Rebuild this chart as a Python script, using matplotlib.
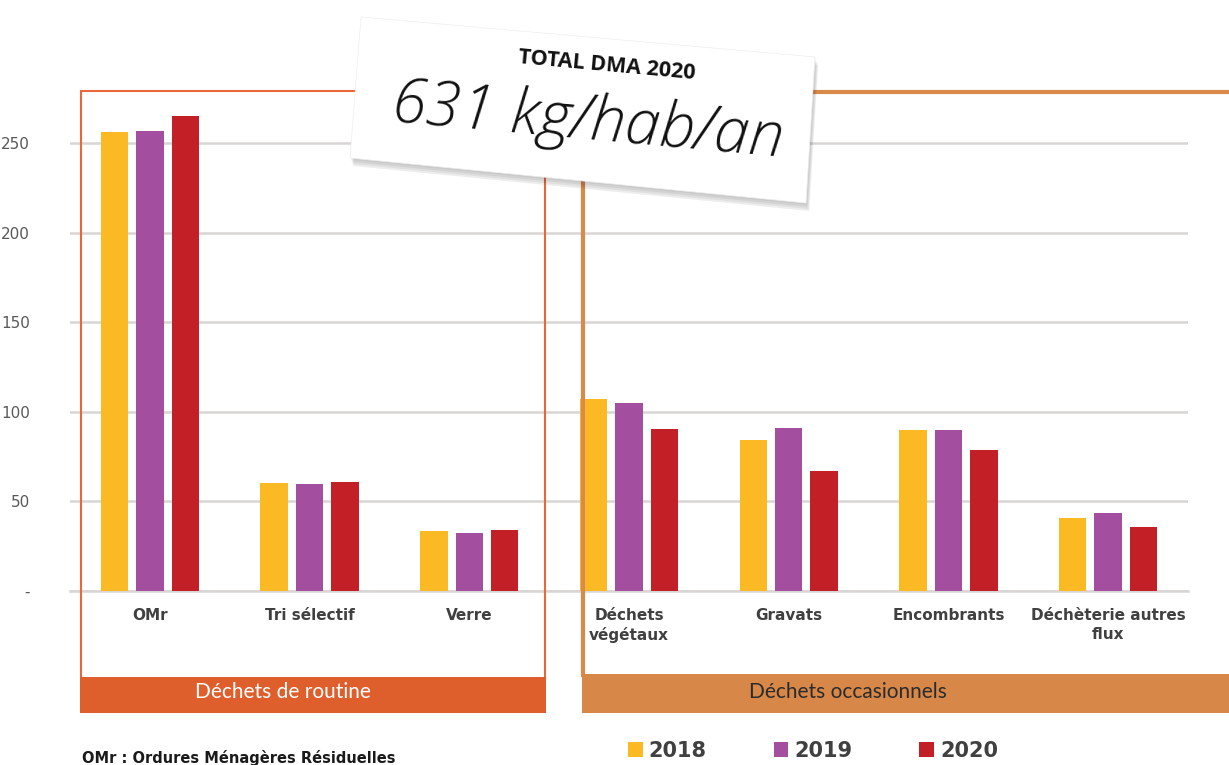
import numpy as np
import matplotlib
matplotlib.use("Agg")
import matplotlib.pyplot as plt
from matplotlib.patches import Rectangle, Polygon

# données (kg/hab/an)
categories = ["OMr", "Tri sélectif", "Verre", "Déchets\nvégétaux", "Gravats",
              "Encombrants", "Déchèterie autres\nflux"]
annees = ["2018", "2019", "2020"]
v2018 = [255.9, 60.3, 33.4, 107.3, 84.5, 90.1, 40.7]
v2019 = [256.6, 59.9, 32.6, 104.7, 90.7, 89.6, 43.3]
v2020 = [265.2, 61.0, 34.2, 90.5, 66.8, 78.6, 35.7]
yticks = [0, 50, 100, 150, 200, 250]
ytick_labels = ["-", "50", "100", "150", "200", "250"]

couleurs = ["#FBB923", "#A44E9F", "#C21F26"]
W, H = 1229, 765

fig = plt.figure(figsize=(W / 100, H / 100), dpi=100)
fig.patch.set_facecolor("white")

# axe principal : 0 -> y=591px, 250 -> y=143px ; x de 70 à 1188 px
px_per_unit = (591 - 143) / 250
ytop = 300
ax = fig.add_axes([70 / W, (H - 591) / H, (1188 - 70) / W, ytop * px_per_unit / H])

x = np.arange(len(categories))
largeur = 0.172
pas = 0.222
barres = []
for i, (vals, c, lab) in enumerate(zip([v2018, v2019, v2020], couleurs, annees)):
    b = ax.bar(x + (i - 1) * pas, vals, width=largeur, color=c, label=lab, zorder=3)
    barres.append(b)

ax.set_xlim(-0.5, len(categories) - 0.5)
ax.set_ylim(0, ytop)
ax.set_yticks(yticks)
ax.set_yticklabels(ytick_labels, fontsize=11, color="#595959")
ax.set_xticks(x)
ax.set_xticklabels(categories, fontsize=11, fontweight="bold", color="#404040",
                   linespacing=1.35)
ax.tick_params(axis="both", length=0)
ax.tick_params(axis="y", pad=29)
ax.tick_params(axis="x", pad=12)
for s in ax.spines.values():
    s.set_visible(False)
ax.grid(axis="y", color="#D9D5D5", linewidth=1.8, zorder=0)
ax.axhline(0, color="#D9D5D5", linewidth=1.8, zorder=0, clip_on=False)
ax.set_axisbelow(True)

leg = ax.legend(handles=barres, labels=annees, loc="center",
                bbox_to_anchor=(813 / W, 1 - 751 / H), bbox_transform=fig.transFigure,
                ncol=3, frameon=False, handlelength=0.7, handleheight=0.7,
                handletextpad=0.3, columnspacing=3.2,
                prop={"size": 15, "weight": "bold"})
for t in leg.get_texts():
    t.set_color("#404040")

# calque décoratif en pixels
deco = fig.add_axes([0, 0, 1, 1], zorder=5)
deco.set_xlim(0, W)
deco.set_ylim(H, 0)
deco.axis("off")
deco.patch.set_alpha(0)

# cadre "Déchets de routine"
c1 = "#E8683A"
deco.plot([81, 81, 545, 545], [677, 91, 91, 677], color=c1, lw=1.5,
          solid_joinstyle="miter", zorder=2)
deco.add_patch(Rectangle((80, 677), 466, 36, color="#DE5F2C", lw=0, zorder=3))
deco.text(283, 692, "Déchets de routine", color="white", fontsize=15,
          family=["Lato", "DejaVu Sans"], ha="center", va="center", zorder=4)

# cadre "Déchets occasionnels"
c2 = "#D9894A"
deco.plot([583, 583, W + 5], [675, 92, 92], color=c2, lw=3,
          solid_joinstyle="miter", zorder=2)
deco.add_patch(Rectangle((582, 674), W - 582, 39, color="#D78848", lw=0, zorder=3))
deco.text(848, 692, "Déchets occasionnels", color="#2b2b2b", fontsize=15,
          family=["Lato", "DejaVu Sans"], ha="center", va="center", zorder=4)

# note OMr
deco.text(82, 758, "OMr : Ordures Ménagères Résiduelles", fontsize=10.5,
          fontweight="bold", color="#1a1a1a", ha="left", va="center")

# carte "TOTAL DMA 2020"
carte = [(361, 17), (815, 57), (806, 203), (350, 158)]
for k, a in enumerate([0.04, 0.05, 0.06, 0.07]):
    d = 2 + k * 2
    ombre = [(px + d * 0.4, py + d) for px, py in carte]
    deco.add_patch(Polygon(ombre, closed=True, color="black", alpha=a, lw=0, zorder=8))
deco.add_patch(Polygon(carte, closed=True, facecolor="white", edgecolor="#eeeeee",
                       lw=0.5, zorder=9))
deco.text(607, 66, "TOTAL DMA 2020", fontsize=15.5, fontweight="bold", color="#111111",
          family=["Open Sans", "DejaVu Sans"], rotation=-5.2, ha="center", va="center",
          rotation_mode="anchor", zorder=10)
deco.text(588, 122, "631 kg/hab/an", fontsize=45, color="#111111",
          family=["Open Sans", "DejaVu Sans"], fontstyle="italic", fontweight="light",
          rotation=-5.2, ha="center", va="center", rotation_mode="anchor", zorder=10)

fig.savefig("out.png", dpi=100)
